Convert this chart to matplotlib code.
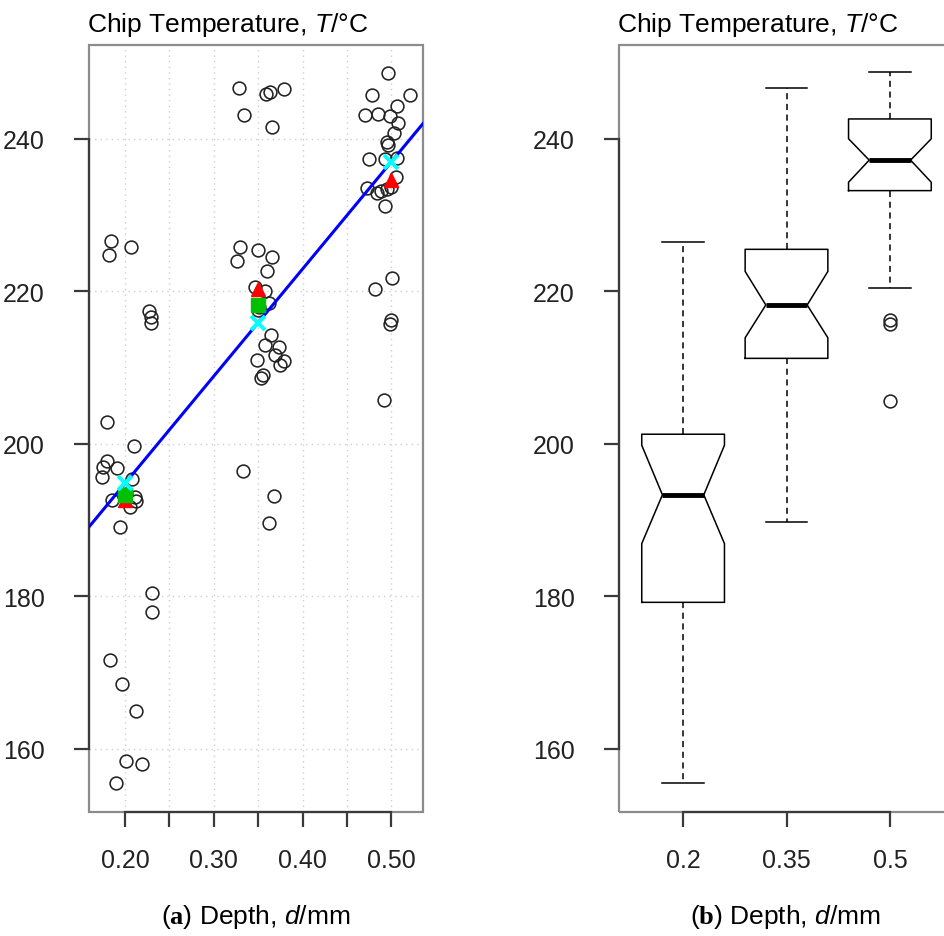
import matplotlib
matplotlib.use("Agg")
import matplotlib.pyplot as plt
import numpy as np
from matplotlib.patches import Rectangle

plt.rcParams["font.family"] = ["Liberation Sans", "DejaVu Sans"]
plt.rcParams["mathtext.fontset"] = "custom"
plt.rcParams["mathtext.rm"] = "Liberation Sans"
plt.rcParams["mathtext.it"] = "Liberation Sans:italic"
plt.rcParams["mathtext.bf"] = "Liberation Serif:bold"

# depth levels (mm) and jittered scatter positions
depth_levels = [0.20, 0.35, 0.50]

d_020 = [0.1846, 0.1817, 0.2071, 0.2270, 0.2289, 0.2296, 0.1794, 0.2101, 0.1794, 0.1756,
         0.1907, 0.1738, 0.2075, 0.1850, 0.2056, 0.2113, 0.2125, 0.1944, 0.1990, 0.2010,
         0.2300, 0.2300, 0.1831, 0.1970, 0.2124, 0.2007, 0.2195, 0.1895]
t_020 = [226.6, 224.8, 225.85, 217.35, 216.65, 215.8, 202.9, 199.65, 197.8, 196.9,
         196.85, 195.6, 195.4, 192.6, 191.7, 193.0, 192.5, 189.1, 193.2, 193.4,
         180.4, 177.9, 171.6, 168.5, 165.0, 158.4, 158.0, 155.5]

d_035 = [0.3286, 0.3587, 0.3637, 0.3787, 0.3341, 0.3660, 0.3295, 0.3257, 0.3494, 0.3652,
         0.3602, 0.3465, 0.3581, 0.3620, 0.3649, 0.3574, 0.3740, 0.3689, 0.3483, 0.3794,
         0.3745, 0.3551, 0.3532, 0.3332, 0.3680, 0.3627, 0.3500, 0.3510]
t_035 = [246.65, 245.9, 246.2, 246.5, 243.1, 241.5, 225.8, 224.0, 225.35, 224.5,
         222.65, 220.55, 220.1, 218.4, 214.3, 213.0, 212.7, 211.6, 211.05, 210.9,
         210.3, 209.0, 208.6, 196.4, 193.1, 189.6, 217.6, 218.0]

d_050 = [0.4966, 0.4785, 0.5210, 0.5060, 0.4703, 0.4845, 0.4984, 0.5070, 0.5033, 0.4947,
         0.4966, 0.4748, 0.4928, 0.5060, 0.5055, 0.4722, 0.4834, 0.4880, 0.4947, 0.4995,
         0.4928, 0.5010, 0.4815, 0.4995, 0.4985, 0.4920]
t_050 = [248.6, 245.8, 245.8, 244.25, 243.1, 243.2, 243.0, 242.1, 240.8, 239.6,
         239.2, 237.4, 237.3, 237.5, 235.05, 233.6, 232.9, 233.2, 233.4, 233.7,
         231.2, 221.8, 220.3, 216.2, 215.7, 205.8]

# box plot summary
box_labels = ["0.2", "0.35", "0.5"]
box_whislo = [155.5, 189.7, 220.4]
box_q1 = [179.2, 211.2, 233.2]
box_cilo = [186.9, 213.9, 234.3]
box_med = [193.3, 218.2, 237.2]
box_cihi = [199.8, 222.6, 240.0]
box_q3 = [201.25, 225.5, 242.6]
box_whishi = [226.5, 246.7, 248.7]
box_fliers = [[], [], [216.2, 215.7, 205.6]]

y_ticks = [160, 180, 200, 220, 240]
x_ticks = [0.20, 0.25, 0.30, 0.35, 0.40, 0.45, 0.50]
x_tick_labels = ["0.20", "", "0.30", "", "0.40", "", "0.50"]

TITLE = "Chip Temperature, $T$/\u00b0C"
XLAB_A = "($\\mathbf{a}$) Depth, $d$/mm"
XLAB_B = "($\\mathbf{b}$) Depth, $d$/mm"

FRAME = "#8c8c8c"
AXIS = "#3a3a3a"


def style_axes(ax, x_lo, x_hi):
    for sp in ax.spines.values():
        sp.set_visible(False)
    ax.add_patch(Rectangle((0, 0), 1, 1, transform=ax.transAxes, fill=False,
                           edgecolor=FRAME, lw=1.6, clip_on=False, zorder=2.4))
    ax.spines["left"].set_visible(True)
    ax.spines["bottom"].set_visible(True)
    ax.spines["left"].set_bounds(y_ticks[0], y_ticks[-1])
    ax.spines["bottom"].set_bounds(x_lo, x_hi)
    for side in ("left", "bottom"):
        ax.spines[side].set_color(AXIS)
        ax.spines[side].set_linewidth(1.6)
        ax.spines[side].set_zorder(2.5)
    ax.tick_params(direction="out", length=11, width=1.6, color=AXIS,
                   labelsize=18, labelcolor="#222222")
    ax.tick_params(axis="y", pad=21)
    ax.tick_params(axis="x", pad=15)


fig = plt.figure(figsize=(9.45, 9.37), dpi=100)
ax1 = fig.add_axes([89 / 945, 1 - 813 / 937, 334 / 945, 767 / 937])
ax2 = fig.add_axes([619 / 945, 1 - 813 / 937, 335 / 945, 767 / 937])

ylim = (151.7, 252.3)

# panel (a): scatter, regression, group means / medians / fitted values
ax1.set_xlim(0.1595, 0.5356)
ax1.set_ylim(*ylim)
ax1.set_xticks(x_ticks, labels=x_tick_labels)
ax1.set_yticks(y_ticks)
ax1.grid(True, color="#cfcfcf", lw=1.0, ls=(0, (1, 3)))
ax1.set_axisbelow(True)

groups = [(d_020, t_020), (d_035, t_035), (d_050, t_050)]
for d, t in groups:
    ax1.plot(d, t, "o", ms=9.2, mfc="none", mec="#222222", mew=1.15, zorder=3)

x_all = np.concatenate([[lev] * len(t) for lev, (d, t) in zip(depth_levels, groups)])
y_all = np.concatenate([t for d, t in groups])
slope, intercept = np.polyfit(x_all, y_all, 1)
xs = np.array(ax1.get_xlim())
ax1.plot(xs, intercept + slope * xs, color="#0000ff", lw=2.2, zorder=4)

means = [np.mean(t) for d, t in groups]
medians = [np.median(t) for d, t in groups]
fitted = intercept + slope * np.array(depth_levels)
ax1.plot(depth_levels, means, "^", color="#ff0000", ms=9.5, zorder=5)
# the median marker only shows for the two shallower depths in the original
ax1.plot(depth_levels[:2], medians[:2], "s", color="#00c000", ms=10, zorder=6)
ax1.plot(depth_levels, fitted, "x", color="#00ffff", ms=10.5, mew=2.8, zorder=7)

style_axes(ax1, x_ticks[0], x_ticks[-1])

# panel (b): notched box plots
stats = []
for i in range(3):
    stats.append(dict(med=box_med[i], q1=box_q1[i], q3=box_q3[i],
                      whislo=box_whislo[i], whishi=box_whishi[i],
                      cilo=box_cilo[i], cihi=box_cihi[i], fliers=box_fliers[i]))
ax2.bxp(stats, positions=[1, 2, 3], widths=0.8, shownotches=True,
        boxprops=dict(color="black", lw=1.1),
        medianprops=dict(color="black", lw=3.5),
        whiskerprops=dict(color="black", lw=1.1, ls=(0, (4, 3))),
        capprops=dict(color="black", lw=1.1),
        flierprops=dict(marker="o", mfc="none", mec="#222222", ms=9.2, mew=1.15))
ax2.set_xlim(0.38, 3.62)
ax2.set_ylim(*ylim)
ax2.set_xticks([1, 2, 3], labels=box_labels)
ax2.set_yticks(y_ticks)
style_axes(ax2, 1, 3)

# titles and axis labels
fig.text(87 / 945, 1 - 32 / 937, TITLE, fontsize=19, ha="left", va="baseline")
fig.text(617 / 945, 1 - 32 / 937, TITLE, fontsize=19, ha="left", va="baseline")
fig.text(256 / 945, 1 - 917 / 937, XLAB_A, fontsize=19, ha="center", va="center")
fig.text(785 / 945, 1 - 917 / 937, XLAB_B, fontsize=19, ha="center", va="center")

fig.savefig("out.png", dpi=100)
